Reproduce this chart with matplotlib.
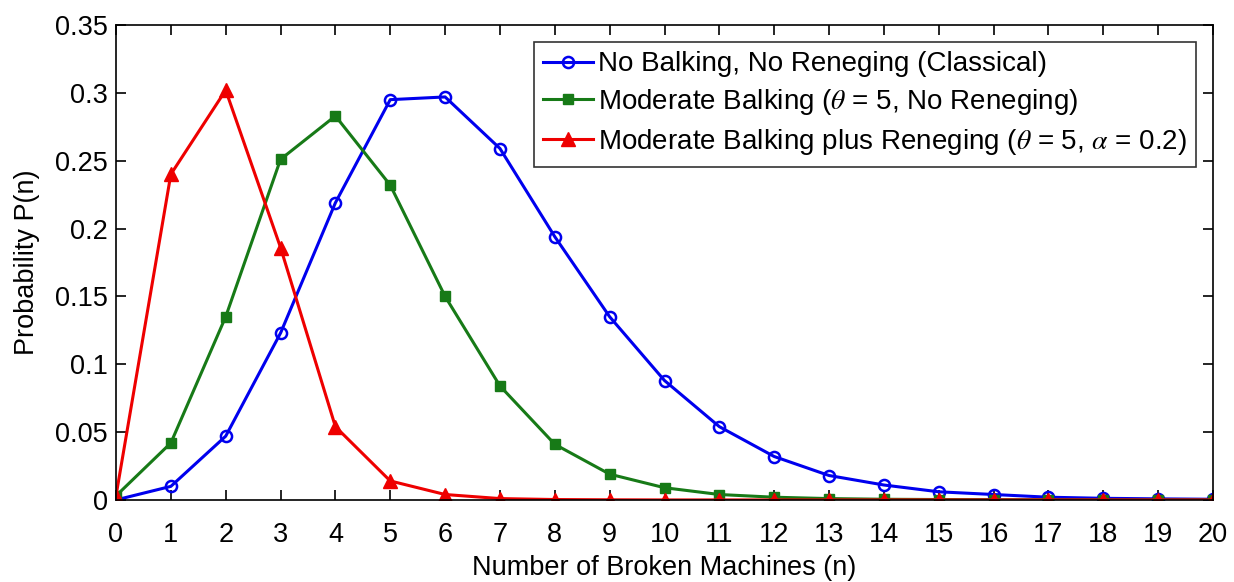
import matplotlib
matplotlib.use("Agg")
import matplotlib.pyplot as plt
from matplotlib.ticker import FuncFormatter

n_values = list(range(21))

classical = [0.0, 0.010, 0.047, 0.123, 0.219, 0.295, 0.297, 0.259, 0.194, 0.135,
             0.088, 0.054, 0.032, 0.018, 0.011, 0.006, 0.004, 0.002, 0.0012, 0.0008, 0.0005]
balking = [0.003, 0.042, 0.135, 0.251, 0.283, 0.232, 0.150, 0.084, 0.041, 0.019,
           0.009, 0.004, 0.002, 0.001, 0.0005, 0.0003, 0.0002, 0.0001, 0.0, 0.0, 0.0]
balking_reneging = [0.003, 0.240, 0.302, 0.186, 0.054, 0.014, 0.004, 0.001, 0.0003, 0.0001,
                    0.0, 0.0, 0.0, 0.0, 0.0, 0.0, 0.0, 0.0, 0.0, 0.0, 0.0]

series_labels = [
    "No Balking, No Reneging (Classical)",
    r"Moderate Balking ($\theta$ = 5, No Reneging)",
    r"Moderate Balking plus Reneging ($\theta$ = 5, $\alpha$ = 0.2)",
]

x_ticks = list(range(21))
y_ticks = [0, 0.05, 0.1, 0.15, 0.2, 0.25, 0.3, 0.35]

plt.rcParams["font.family"] = ["Liberation Sans", "DejaVu Sans"]
plt.rcParams["mathtext.fontset"] = "stix"

FONT_SIZE = 19.5

fig = plt.figure(figsize=(12.34, 5.82), dpi=100)
ax = fig.add_axes([0.094, 0.141, 0.889, 0.816])

ax.plot(n_values, classical, color="#0000ee", linewidth=2.2, marker="o",
        markersize=8, markerfacecolor="none", markeredgewidth=1.8,
        label=series_labels[0])
ax.plot(n_values, balking, color="#177a17", linewidth=2.2, marker="s",
        markersize=7.5, label=series_labels[1])
ax.plot(n_values, balking_reneging, color="#ee0000", linewidth=2.2, marker="^",
        markersize=10, label=series_labels[2])

ax.set_xlim(0, 20)
ax.set_ylim(0, 0.35)
ax.set_xticks(x_ticks)
ax.set_yticks(y_ticks)
ax.yaxis.set_major_formatter(FuncFormatter(lambda v, _: f"{v:g}"))
ax.tick_params(direction="in", top=True, right=True, labelsize=FONT_SIZE,
               length=7, width=1.2)
ax.tick_params(axis="x", pad=16)
ax.tick_params(axis="y", pad=6)
for spine in ax.spines.values():
    spine.set_linewidth(1.2)

ax.set_xlabel("Number of Broken Machines (n)", fontsize=FONT_SIZE, labelpad=5)
ax.set_ylabel("Probability P(n)", fontsize=FONT_SIZE, labelpad=11)

legend = ax.legend(loc="upper right", fontsize=20, frameon=True, fancybox=False,
                   edgecolor="black", handlelength=1.8, handletextpad=0.15,
                   borderpad=0.35, labelspacing=0.35, borderaxespad=0.6)
legend.get_frame().set_linewidth(1.2)

fig.savefig("out.png", dpi=100)
